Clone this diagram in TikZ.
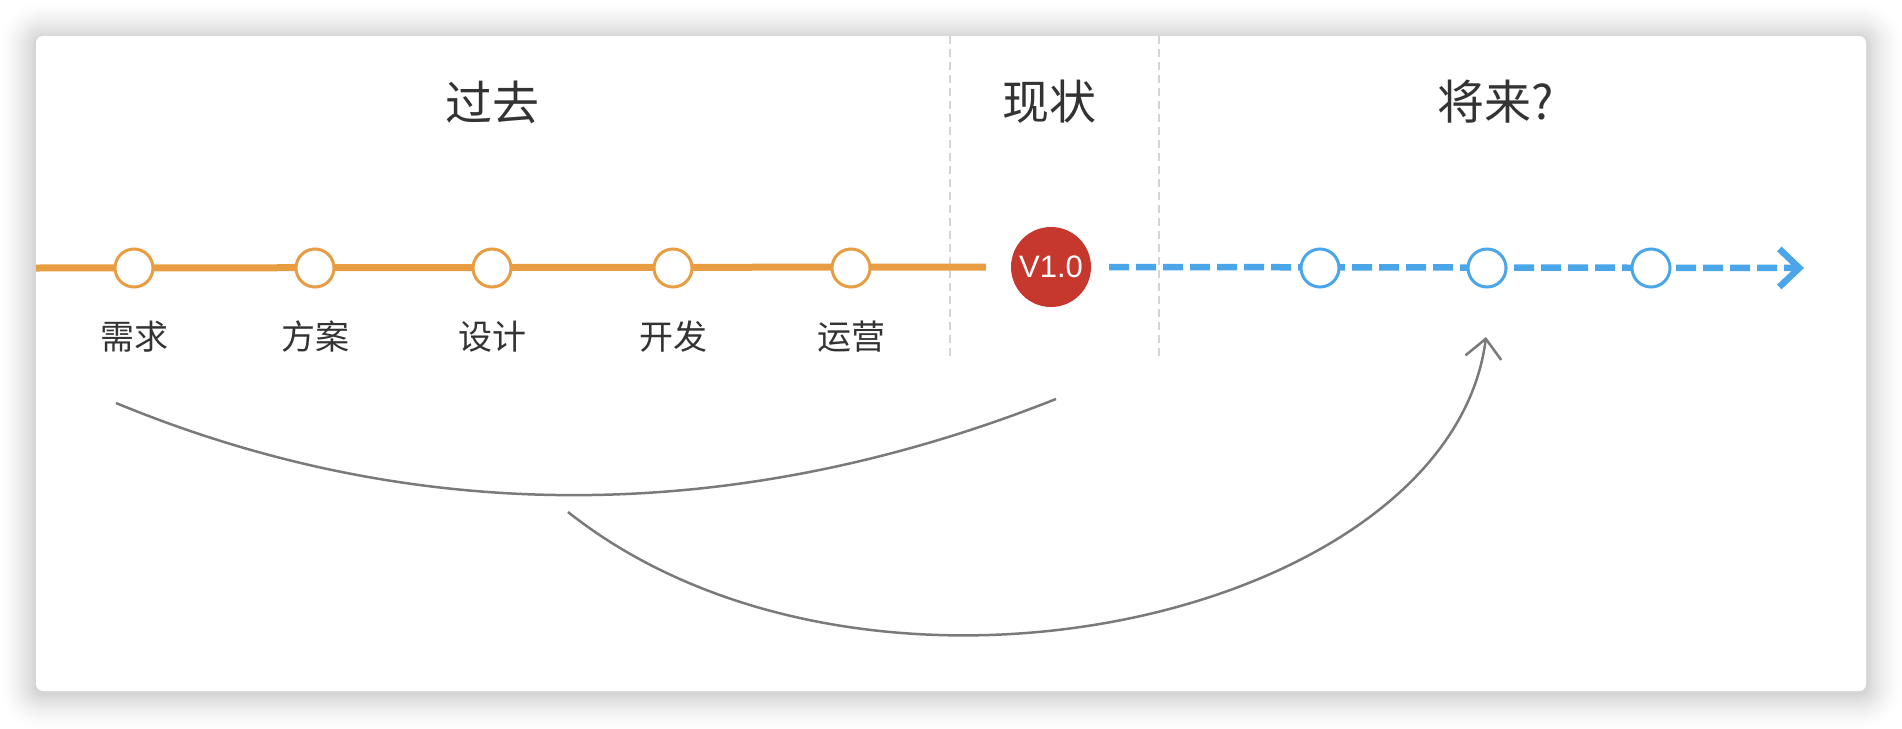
\documentclass[tikz,border=0pt]{standalone}
\usepackage{fontspec}
\setmainfont{Noto Sans CJK SC}
\newfontfamily\verfont{Liberation Sans}
\usepackage{tikz}
\usetikzlibrary{arrows.meta}
\definecolor{pastorange}{HTML}{E99D42}
\definecolor{futureblue}{HTML}{4BA6E9}
\definecolor{nowred}{HTML}{C6372D}
\definecolor{textgray}{HTML}{333333}
\definecolor{curvegray}{HTML}{7A7A7A}
\definecolor{splitgray}{HTML}{D5D5D5}

\begin{document}
\begin{tikzpicture}[x=1pt,y=-1pt,
  stage/.style={circle,draw=pastorange,line width=3pt,fill=white,minimum size=38pt,inner sep=0pt},
  later/.style={stage,draw=futureblue},
  phase/.style={text=textgray,font=\fontsize{34}{40}\selectfont},
  era/.style={text=textgray,font=\fontsize{47}{56}\selectfont},
  swing/.style={draw=curvegray,line width=2.5pt}]
  \useasboundingbox (0,0) rectangle (1902,728);
  % card and its shadow
  \foreach \d [evaluate=\d as \r using \d+7, evaluate=\d as \o using 0.004+0.011*(1-\d/36)] in {2,4,...,36}
    \fill[black,opacity=\o,rounded corners=\r pt] (36-\d,38-\d) rectangle (1866+\d,693+\d);
  \fill[white,rounded corners=7pt] (36,36) rectangle (1866,691);
  \draw[splitgray,line width=2.5pt,dash pattern=on 8pt off 5pt] (950,36) -- (950,358);
  \draw[splitgray,line width=2.5pt,dash pattern=on 8pt off 5pt] (1159,36) -- (1159,358);
  % titles
  \node[era] (past) at (492,102) {过去};
  \node[era] (now) at (1049,102) {现状};
  \node[era] (future) at (1496,102) {将来?};
  % now
  \node[circle,fill=nowred,minimum size=80pt,inner sep=0pt,text=white,
    font=\verfont\fontsize{31}{36}\selectfont] (ver) at (1051,267) {V1.0};
  \coordinate (pstart) at (36,268);
  \coordinate (fend) at (1804,268);
  \draw[pastorange,line width=7pt] (pstart) -- ([xshift=-25pt]ver.west);
  \draw[futureblue,line width=6.5pt,dash pattern=on 20pt off 7pt,
    -{Straight Barb[length=20pt,width=38pt]}] ([xshift=18pt]ver.east) -- (fend);
  % past
  \node[stage] (req) at (134,268) {};
  \node[stage] (plan) at (315,268) {};
  \node[stage] (design) at (492,268) {};
  \node[stage] (dev) at (673,268) {};
  \node[stage] (ops) at (851,268) {};
  \node[phase] (reqtxt) at (134,337) {需求};
  \node[phase] (plantxt) at (315,337) {方案};
  \node[phase] (designtxt) at (492,337) {设计};
  \node[phase] (devtxt) at (673,337) {开发};
  \node[phase] (opstxt) at (851,337) {运营};
  % future
  \node[later] (f1) at (1320,268) {};
  \node[later] (f2) at (1487,268) {};
  \node[later] (f3) at (1651,268) {};
  % curves
  \coordinate (k1) at (116,403);
  \coordinate (k2) at (1056,399);
  \draw[swing] (k1) .. controls +(300,124) and +(-320,127) .. (k2);
  \coordinate (g1) at (568,512);
  \coordinate (g2) at (1486,337);
  \draw[swing,-{Straight Barb[length=19pt,width=36pt]}] (g1) .. controls +(300,238) and +(-36,280) .. (g2);
\end{tikzpicture}
\end{document}
